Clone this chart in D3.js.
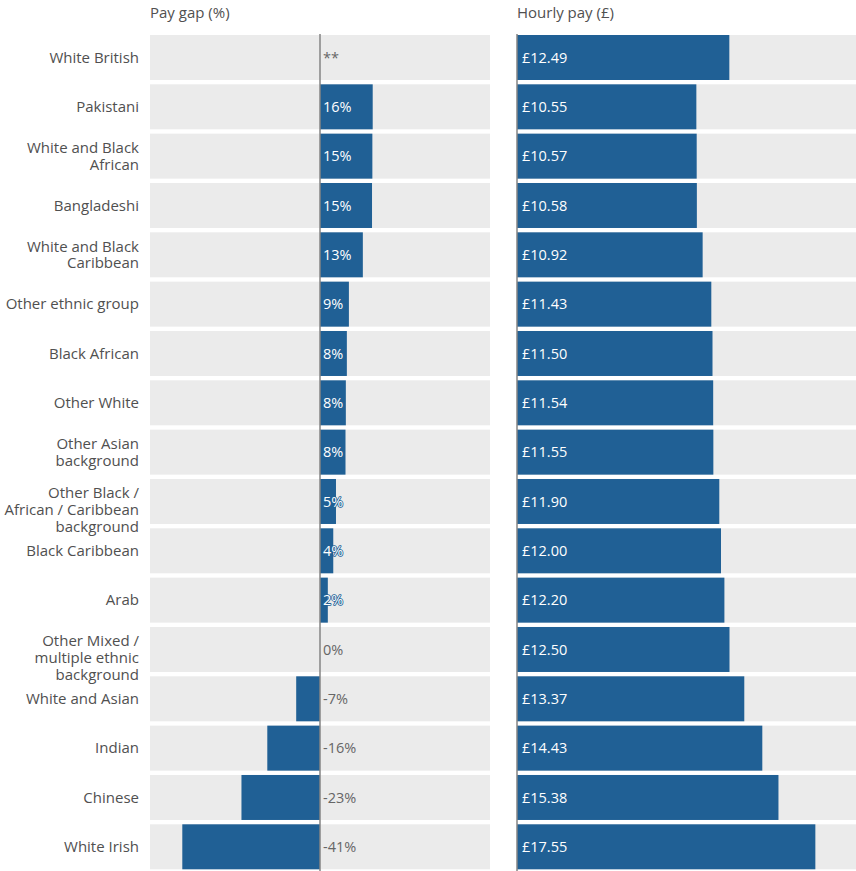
<!DOCTYPE html>
<html>
<head>
<meta charset="utf-8">
<script src="https://cdn.jsdelivr.net/npm/d3@7"></script>
<style>
  html, body { margin: 0; padding: 0; background: #fff; }
  svg { display: block; font-family: "Open Sans", sans-serif; }
</style>
</head>
<body>
<svg id="chart" width="856" height="871"></svg>
<script>
const categories = [
  "White British", "Pakistani", "White and Black African", "Bangladeshi",
  "White and Black Caribbean", "Other ethnic group", "Black African", "Other White",
  "Other Asian background", "Other Black / African / Caribbean background",
  "Black Caribbean", "Arab", "Other Mixed / multiple ethnic background",
  "White and Asian", "Indian", "Chinese", "White Irish"
];
const labelLines = [
  ["White British"], ["Pakistani"], ["White and Black", "African"], ["Bangladeshi"],
  ["White and Black", "Caribbean"], ["Other ethnic group"], ["Black African"], ["Other White"],
  ["Other Asian", "background"], ["Other Black /", "African / Caribbean", "background"],
  ["Black Caribbean"], ["Arab"], ["Other Mixed /", "multiple ethnic", "background"],
  ["White and Asian"], ["Indian"], ["Chinese"], ["White Irish"]
];
const payGap = [0, 15.5, 15.4, 15.3, 12.6, 8.5, 7.9, 7.6, 7.5, 4.7, 3.9, 2.3, 0, -7.0, -15.5, -23.1, -40.5];
const payGapLabels = ["**", "16%", "15%", "15%", "13%", "9%", "8%", "8%", "8%", "5%", "4%", "2%", "0%", "-7%", "-16%", "-23%", "-41%"];
const hourlyPay = [12.49, 10.55, 10.57, 10.58, 10.92, 11.43, 11.50, 11.54, 11.55, 11.90, 12.00, 12.20, 12.50, 13.37, 14.43, 15.38, 17.55];
const hourlyPayLabels = hourlyPay.map(v => "£" + v.toFixed(2));
const gapDomain = [-50, 50];
const payDomain = [0, 20];

const BLUE = "#206095", BG = "#ebebeb", TXT = "#505050";
const FS = 15;
const svg = d3.select("#chart");

const y = d3.scaleBand().domain(categories).range([35, 869.3]).paddingInner(0.088).paddingOuter(0);
const xL = d3.scaleLinear().domain(gapDomain).range([150, 490]);
const xR = d3.scaleLinear().domain(payDomain).range([517, 857]);

const rows = categories.map((c, i) => ({c, i, gap: payGap[i], gapLabel: payGapLabels[i], pay: hourlyPay[i], payLabel: hourlyPayLabels[i], lines: labelLines[i]}));

// headers
svg.append("text").attr("x", 150).attr("y", 18).attr("font-size", FS).attr("fill", TXT).text("Pay gap (%)");
svg.append("text").attr("x", 517).attr("y", 18).attr("font-size", FS).attr("fill", TXT).text("Hourly pay (£)");

// background rows
svg.append("g").selectAll("rect").data(rows).join("rect")
  .attr("x", xL.range()[0]).attr("width", xL.range()[1] - xL.range()[0])
  .attr("y", d => y(d.c)).attr("height", y.bandwidth()).attr("fill", BG);
svg.append("g").selectAll("rect").data(rows).join("rect")
  .attr("x", xR.range()[0]).attr("width", xR.range()[1] - xR.range()[0])
  .attr("y", d => y(d.c)).attr("height", y.bandwidth()).attr("fill", BG);

// bars
svg.append("g").selectAll("rect").data(rows.filter(d => d.gap !== 0)).join("rect")
  .attr("x", d => xL(Math.min(0, d.gap))).attr("width", d => Math.abs(xL(d.gap) - xL(0)))
  .attr("y", d => y(d.c)).attr("height", y.bandwidth()).attr("fill", BLUE);
svg.append("g").selectAll("rect").data(rows).join("rect")
  .attr("x", xR(0)).attr("width", d => xR(d.pay) - xR(0))
  .attr("y", d => y(d.c)).attr("height", y.bandwidth()).attr("fill", BLUE);

// axis lines
svg.append("line").attr("x1", xL(0)).attr("x2", xL(0)).attr("y1", 34).attr("y2", 871)
  .attr("stroke", "#858585").attr("stroke-width", 1.5);
svg.append("line").attr("x1", xR(0)).attr("x2", xR(0)).attr("y1", 34).attr("y2", 871)
  .attr("stroke", "#858585").attr("stroke-width", 1.5);

// category labels
const lh = 16.6;
const cl = svg.append("g").selectAll("text").data(rows).join("text")
  .attr("x", 139).attr("text-anchor", "end").attr("font-size", FS).attr("fill", TXT)
  .attr("y", d => y(d.c) + y.bandwidth() / 2 - (d.lines.length > 1 ? 8.3 : 0));
cl.each(function(d) {
  const t = d3.select(this);
  d.lines.forEach((ln, k) => {
    t.append("tspan").attr("x", 139).attr("dy", k === 0 ? "0.35em" : lh).text(ln);
  });
});

// gap value labels
svg.append("g").selectAll("text").data(rows).join("text")
  .attr("x", xL(0) + 3).attr("y", d => y(d.c) + y.bandwidth() / 2).attr("dy", "0.35em")
  .attr("font-size", FS - 0.5)
  .attr("fill", d => d.gap > 0 ? "#ffffff" : "#666666")
  .attr("stroke", d => d.gap > 0 ? BLUE : "none").attr("stroke-width", 1.6)
  .attr("paint-order", "stroke").attr("stroke-linejoin", "round")
  .text(d => d.gapLabel);

// pay value labels
svg.append("g").selectAll("text").data(rows).join("text")
  .attr("x", xR(0) + 5).attr("y", d => y(d.c) + y.bandwidth() / 2).attr("dy", "0.35em")
  .attr("font-size", FS - 0.5).attr("fill", "#ffffff")
  .text(d => d.payLabel);
</script>
</body>
</html>
